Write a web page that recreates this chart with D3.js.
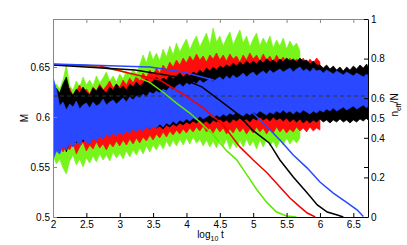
<!DOCTYPE html>
<html>
<head>
<meta charset="utf-8">
<script src="https://d3js.org/d3.v7.min.js"></script>
<style>
  body { margin: 0; background: #fff; }
  svg { display: block; }
  text { font-family: "Liberation Sans", Arial, Helvetica, sans-serif; }
</style>
</head>
<body>
<div id="chart"></div>
<script>
// log10 t grid of the noisy M traces
const noiseT = [2.00, 2.05, 2.10, 2.15, 2.20, 2.25, 2.30, 2.35, 2.40, 2.45,
  2.50, 2.55, 2.60, 2.65, 2.70, 2.75, 2.80, 2.85, 2.90, 2.95,
  3.00, 3.05, 3.10, 3.15, 3.20, 3.25, 3.30, 3.35, 3.40, 3.45,
  3.50, 3.55, 3.60, 3.65, 3.70, 3.75, 3.80, 3.85, 3.90, 3.95,
  4.00, 4.05, 4.10, 4.15, 4.20, 4.25, 4.30, 4.35, 4.40, 4.45,
  4.50, 4.55, 4.60, 4.65, 4.70, 4.75, 4.80, 4.85, 4.90, 4.95,
  5.00, 5.05, 5.10, 5.15, 5.20, 5.25, 5.30, 5.35, 5.40, 5.45,
  5.50, 5.55, 5.60, 5.65, 5.70, 5.75, 5.80, 5.85, 5.90, 5.95,
  6.00, 6.05, 6.10, 6.15, 6.20, 6.25, 6.30, 6.35, 6.40, 6.45,
  6.50, 6.55, 6.60, 6.65, 6.70, 6.72]

// upper / lower extent of each noisy M trace
const greenHi = [0.626, 0.633, 0.628, 0.637, 0.652, 0.631, 0.627, 0.636, 0.630, 0.640,
  0.632, 0.637, 0.631, 0.641, 0.634, 0.639, 0.645, 0.636, 0.641, 0.635,
  0.643, 0.638, 0.646, 0.640, 0.648, 0.643, 0.652, 0.662, 0.654, 0.666,
  0.657, 0.664, 0.656, 0.668, 0.660, 0.671, 0.662, 0.674, 0.665, 0.672,
  0.678, 0.667, 0.675, 0.681, 0.670, 0.677, 0.684, 0.672, 0.689, 0.675,
  0.681, 0.671, 0.679, 0.685, 0.672, 0.680, 0.687, 0.674, 0.681, 0.670,
  0.678, 0.684, 0.671, 0.679, 0.673, 0.681, 0.669, 0.677, 0.671, 0.679,
  0.668, 0.676, 0.670, 0.674, 0.666]
const greenLo = [0.562, 0.553, 0.558, 0.549, 0.543, 0.556, 0.562, 0.552, 0.558, 0.550,
  0.559, 0.554, 0.561, 0.555, 0.563, 0.557, 0.562, 0.556, 0.565, 0.559,
  0.564, 0.558, 0.566, 0.560, 0.567, 0.562, 0.569, 0.563, 0.571, 0.565,
  0.572, 0.567, 0.574, 0.568, 0.576, 0.570, 0.577, 0.571, 0.578, 0.572,
  0.579, 0.573, 0.580, 0.574, 0.578, 0.571, 0.577, 0.570, 0.576, 0.569,
  0.577, 0.571, 0.578, 0.568, 0.575, 0.569, 0.577, 0.570, 0.578, 0.571,
  0.576, 0.568, 0.577, 0.570, 0.578, 0.571, 0.576, 0.569, 0.577, 0.572,
  0.579, 0.573, 0.578, 0.574, 0.579]

const redHi = [0.618, 0.624, 0.620, 0.627, 0.622, 0.629, 0.621, 0.626, 0.632, 0.624,
  0.628, 0.623, 0.630, 0.626, 0.633, 0.627, 0.631, 0.636, 0.629, 0.633,
  0.630, 0.637, 0.632, 0.639, 0.634, 0.641, 0.636, 0.644, 0.639, 0.647,
  0.642, 0.649, 0.644, 0.652, 0.647, 0.655, 0.650, 0.657, 0.652, 0.659,
  0.654, 0.661, 0.656, 0.663, 0.657, 0.661, 0.655, 0.662, 0.658, 0.664,
  0.657, 0.662, 0.656, 0.663, 0.658, 0.661, 0.655, 0.662, 0.657, 0.664,
  0.658, 0.662, 0.656, 0.663, 0.657, 0.661, 0.655, 0.662, 0.656, 0.660,
  0.654, 0.659, 0.653, 0.658, 0.654, 0.659, 0.653, 0.658, 0.654, 0.659,
  0.655]
const redLo = [0.576, 0.569, 0.574, 0.565, 0.571, 0.567, 0.574, 0.563, 0.570, 0.575,
  0.566, 0.572, 0.568, 0.575, 0.569, 0.573, 0.567, 0.574, 0.570, 0.576,
  0.571, 0.577, 0.572, 0.578, 0.573, 0.579, 0.574, 0.580, 0.576, 0.582,
  0.577, 0.583, 0.579, 0.585, 0.580, 0.586, 0.582, 0.587, 0.583, 0.588,
  0.584, 0.589, 0.585, 0.590, 0.586, 0.591, 0.585, 0.589, 0.584, 0.590,
  0.585, 0.589, 0.583, 0.588, 0.584, 0.590, 0.585, 0.589, 0.583, 0.588,
  0.584, 0.590, 0.585, 0.589, 0.583, 0.588, 0.584, 0.590, 0.585, 0.589,
  0.584, 0.588, 0.585, 0.590, 0.586, 0.589, 0.585, 0.590, 0.586, 0.589,
  0.587]

const blackHi = [0.622, 0.629, 0.624, 0.633, 0.640, 0.626, 0.622, 0.628, 0.624, 0.630,
  0.625, 0.622, 0.629, 0.626, 0.631, 0.627, 0.624, 0.630, 0.627, 0.633,
  0.628, 0.631, 0.627, 0.633, 0.630, 0.635, 0.631, 0.634, 0.638, 0.633,
  0.636, 0.640, 0.636, 0.639, 0.637, 0.642, 0.638, 0.641, 0.644, 0.640,
  0.643, 0.641, 0.645, 0.643, 0.647, 0.644, 0.649, 0.646, 0.650, 0.647,
  0.651, 0.649, 0.652, 0.650, 0.654, 0.651, 0.655, 0.652, 0.656, 0.653,
  0.656, 0.653, 0.657, 0.654, 0.658, 0.655, 0.657, 0.654, 0.658, 0.655,
  0.659, 0.656, 0.658, 0.655, 0.659, 0.656, 0.657, 0.653, 0.656, 0.652,
  0.652, 0.649, 0.652, 0.648, 0.651, 0.647, 0.650, 0.646, 0.650, 0.647,
  0.651, 0.648, 0.652, 0.649, 0.653, 0.650]
const blackLo = [0.582, 0.574, 0.570, 0.578, 0.565, 0.576, 0.580, 0.574, 0.579, 0.575,
  0.581, 0.577, 0.582, 0.578, 0.584, 0.580, 0.585, 0.581, 0.586, 0.583,
  0.587, 0.584, 0.588, 0.585, 0.589, 0.586, 0.590, 0.587, 0.591, 0.588,
  0.592, 0.589, 0.591, 0.588, 0.592, 0.590, 0.593, 0.591, 0.594, 0.592,
  0.595, 0.593, 0.596, 0.594, 0.597, 0.594, 0.596, 0.593, 0.597, 0.595,
  0.598, 0.595, 0.597, 0.594, 0.598, 0.596, 0.599, 0.596, 0.598, 0.595,
  0.599, 0.597, 0.600, 0.597, 0.599, 0.596, 0.600, 0.597, 0.599, 0.596,
  0.599, 0.595, 0.598, 0.595, 0.598, 0.594, 0.597, 0.594, 0.597, 0.595,
  0.598, 0.595, 0.597, 0.594, 0.597, 0.595, 0.598, 0.595, 0.597, 0.594,
  0.597, 0.595, 0.598, 0.596, 0.599, 0.597]

const blueHi = [0.640, 0.628, 0.611, 0.615, 0.607, 0.613, 0.610, 0.616, 0.608, 0.612,
  0.614, 0.609, 0.615, 0.611, 0.613, 0.618, 0.612, 0.615, 0.617, 0.613,
  0.616, 0.619, 0.615, 0.620, 0.617, 0.621, 0.619, 0.623, 0.620, 0.625,
  0.623, 0.626, 0.624, 0.628, 0.626, 0.630, 0.627, 0.631, 0.633, 0.630,
  0.634, 0.632, 0.635, 0.633, 0.637, 0.634, 0.636, 0.639, 0.635, 0.638,
  0.640, 0.637, 0.641, 0.638, 0.642, 0.639, 0.641, 0.644, 0.640, 0.643,
  0.645, 0.641, 0.644, 0.646, 0.643, 0.647, 0.644, 0.646, 0.648, 0.645,
  0.647, 0.649, 0.645, 0.648, 0.650, 0.646, 0.648, 0.645, 0.649, 0.646,
  0.647, 0.644, 0.647, 0.645, 0.643, 0.646, 0.644, 0.642, 0.645, 0.643,
  0.641, 0.644, 0.642, 0.640, 0.643, 0.641]
const blueLo = [0.557, 0.566, 0.563, 0.571, 0.567, 0.574, 0.570, 0.576, 0.572, 0.578,
  0.575, 0.573, 0.579, 0.576, 0.581, 0.578, 0.583, 0.580, 0.584, 0.581,
  0.585, 0.582, 0.586, 0.584, 0.588, 0.585, 0.589, 0.586, 0.590, 0.588,
  0.591, 0.589, 0.593, 0.590, 0.594, 0.592, 0.596, 0.593, 0.597, 0.595,
  0.598, 0.596, 0.599, 0.597, 0.601, 0.598, 0.600, 0.602, 0.599, 0.602,
  0.600, 0.603, 0.601, 0.604, 0.602, 0.605, 0.603, 0.601, 0.604, 0.602,
  0.605, 0.603, 0.606, 0.604, 0.602, 0.605, 0.603, 0.606, 0.604, 0.607,
  0.604, 0.606, 0.603, 0.606, 0.604, 0.607, 0.605, 0.603, 0.606, 0.604,
  0.607, 0.605, 0.608, 0.606, 0.609, 0.606, 0.608, 0.610, 0.607, 0.609,
  0.611, 0.608, 0.610, 0.612, 0.609, 0.611]

const mRef = 0.621

// decaying n_eff/N curves
const greenT = [2, 2.5, 3, 3.2, 3.45, 3.65, 3.85, 4.05, 4.2, 4.4, 4.5, 4.6, 4.75, 4.9, 5.05, 5.2, 5.35, 5.5, 5.65]
const greenN = [0.77, 0.765, 0.74, 0.715, 0.68, 0.63, 0.575, 0.525, 0.48, 0.415, 0.375, 0.335, 0.29, 0.215, 0.14, 0.075, 0.025, 0.005, 0]
const redT = [2, 2.7, 3.26, 3.6, 3.95, 4.25, 4.55, 4.8, 5.0, 5.21, 5.4, 5.55, 5.7, 5.81, 5.93]
const redN = [0.77, 0.763, 0.717, 0.692, 0.62, 0.551, 0.465, 0.354, 0.288, 0.222, 0.152, 0.096, 0.051, 0.02, 0]
const blackT = [2, 3.23, 3.87, 4.23, 4.53, 4.75, 4.99, 5.24, 5.4, 5.6, 5.81, 5.96, 6.11, 6.26, 6.35]
const blackN = [0.768, 0.742, 0.707, 0.657, 0.581, 0.525, 0.439, 0.374, 0.288, 0.202, 0.121, 0.061, 0.025, 0.01, 0]
const blueT = [2, 3.45, 3.95, 4.4, 4.75, 4.98, 5.21, 5.4, 5.6, 5.81, 6.0, 6.2, 6.41, 6.56, 6.65]
const blueN = [0.773, 0.758, 0.732, 0.692, 0.616, 0.53, 0.455, 0.389, 0.313, 0.247, 0.177, 0.121, 0.071, 0.035, 0.003]

const xTicks = [2, 2.5, 3, 3.5, 4, 4.5, 5, 5.5, 6, 6.5]
const mTicks = [0.5, 0.55, 0.6, 0.65]
const nTicks = [0, 0.2, 0.4, 0.5, 0.6, 0.8, 1]

// layout
const svgW = 407, svgH = 245
const pLeft = 53, pRight = 368, pTop = 19, pBottom = 217

const svg = d3.select('#chart').append('svg')
    .attr('width', svgW)
    .attr('height', svgH)

const x = d3.scaleLinear().domain([2, 6.72]).range([pLeft, pRight])
const yM = d3.scaleLinear().domain([0.5, 0.698]).range([pBottom, pTop])
const yN = d3.scaleLinear().domain([0, 1]).range([pBottom, pTop])

svg.append('clipPath').attr('id', 'plot')
    .append('rect')
    .attr('x', pLeft).attr('y', pTop)
    .attr('width', pRight - pLeft).attr('height', pBottom - pTop)

const plot = svg.append('g').attr('clip-path', 'url(#plot)')

// noisy bands, drawn back to front
const bands = [
    { hi: greenHi, lo: greenLo, color: '#77f51a' },
    { hi: redHi, lo: redLo, color: '#ff0d0d' },
    { hi: blackHi, lo: blackLo, color: '#000000' },
    { hi: blueHi, lo: blueLo, color: '#2a48ff' }
]

const area = d3.area()
    .x(d => x(d.t))
    .y0(d => yM(d.lo))
    .y1(d => yM(d.hi))

bands.forEach(b => {
    const n = Math.min(b.hi.length, b.lo.length, noiseT.length)
    const rows = d3.range(n).map(i => ({ t: noiseT[i], hi: b.hi[i], lo: b.lo[i] }))
    plot.append('path')
        .datum(rows)
        .attr('d', area)
        .attr('fill', b.color)
        .attr('stroke', b.color)
        .attr('stroke-width', 0.7)
})

plot.append('line')
    .attr('x1', pLeft).attr('x2', pRight)
    .attr('y1', yM(mRef)).attr('y2', yM(mRef))
    .attr('stroke', '#333')
    .attr('stroke-width', 1)
    .attr('stroke-dasharray', '4,3')

// decay curves on the right axis
const curves = [
    { t: greenT, n: greenN, color: '#5fe800' },
    { t: redT, n: redN, color: '#f00000' },
    { t: blackT, n: blackN, color: '#000000' },
    { t: blueT, n: blueN, color: '#2a48ff' }
]

const line = d3.line()
    .x(d => x(d[0]))
    .y(d => yN(d[1]))

curves.forEach(c => {
    plot.append('path')
        .datum(c.t.map((t, i) => [t, c.n[i]]))
        .attr('d', line)
        .attr('fill', 'none')
        .attr('stroke', c.color)
        .attr('stroke-width', 1.5)
})

// axes
const axisFont = g => g.selectAll('text')
    .style('font-size', '10px')
    .attr('fill', '#000')

const gx = svg.append('g')
    .attr('transform', `translate(0,${pBottom})`)
    .call(d3.axisBottom(x).tickValues(xTicks).tickFormat(d3.format(''))
        .tickSizeInner(-4).tickSizeOuter(0).tickPadding(4))
    .call(axisFont)
gx.select('.domain').attr('stroke', '#000')

svg.append('g')
    .attr('transform', `translate(0,${pTop})`)
    .call(d3.axisTop(x).tickValues(xTicks).tickFormat('')
        .tickSizeInner(-4).tickSizeOuter(0))
    .call(g => g.select('.domain').attr('stroke', '#888'))
    .call(g => g.selectAll('.tick line').attr('stroke', '#888'))

const gl = svg.append('g')
    .attr('transform', `translate(${pLeft},0)`)
    .call(d3.axisLeft(yM).tickValues(mTicks).tickFormat(d3.format(''))
        .tickSizeInner(-4).tickSizeOuter(0).tickPadding(3))
    .call(axisFont)
gl.select('.domain').attr('stroke', '#888')
gl.selectAll('.tick line').attr('stroke', '#888')

// left ticks mirrored on the right edge
svg.append('g')
    .attr('transform', `translate(${pRight},0)`)
    .call(d3.axisRight(yM).tickValues(mTicks).tickFormat('')
        .tickSizeInner(-4).tickSizeOuter(0))
    .call(g => g.select('.domain').remove())

svg.append('g')
    .attr('transform', `translate(${pRight},0)`)
    .call(d3.axisRight(yN).tickValues(nTicks).tickFormat(d3.format(''))
        .tickSizeInner(-4).tickSizeOuter(0).tickPadding(3))
    .call(axisFont)
    .call(g => g.select('.domain').attr('stroke', '#000'))

// axis titles
svg.append('text')
    .attr('transform', `translate(28,118) rotate(-90)`)
    .attr('text-anchor', 'middle')
    .style('font-size', '10px')
    .text('M')

const xl = svg.append('text')
    .attr('x', (pLeft + pRight) / 2)
    .attr('y', 238)
    .attr('text-anchor', 'middle')
    .style('font-size', '10px')
xl.append('tspan').text('log')
xl.append('tspan').attr('dy', 3).style('font-size', '7px').text('10')
xl.append('tspan').attr('dy', -3).text(' t')

const nl = svg.append('text')
    .attr('transform', `translate(398,105) rotate(-90)`)
    .attr('text-anchor', 'middle')
    .style('font-size', '10px')
nl.append('tspan').text('n')
nl.append('tspan').attr('dy', 3).style('font-size', '7px').text('eff')
nl.append('tspan').attr('dy', -3).text('/N')
</script>
</body>
</html>
